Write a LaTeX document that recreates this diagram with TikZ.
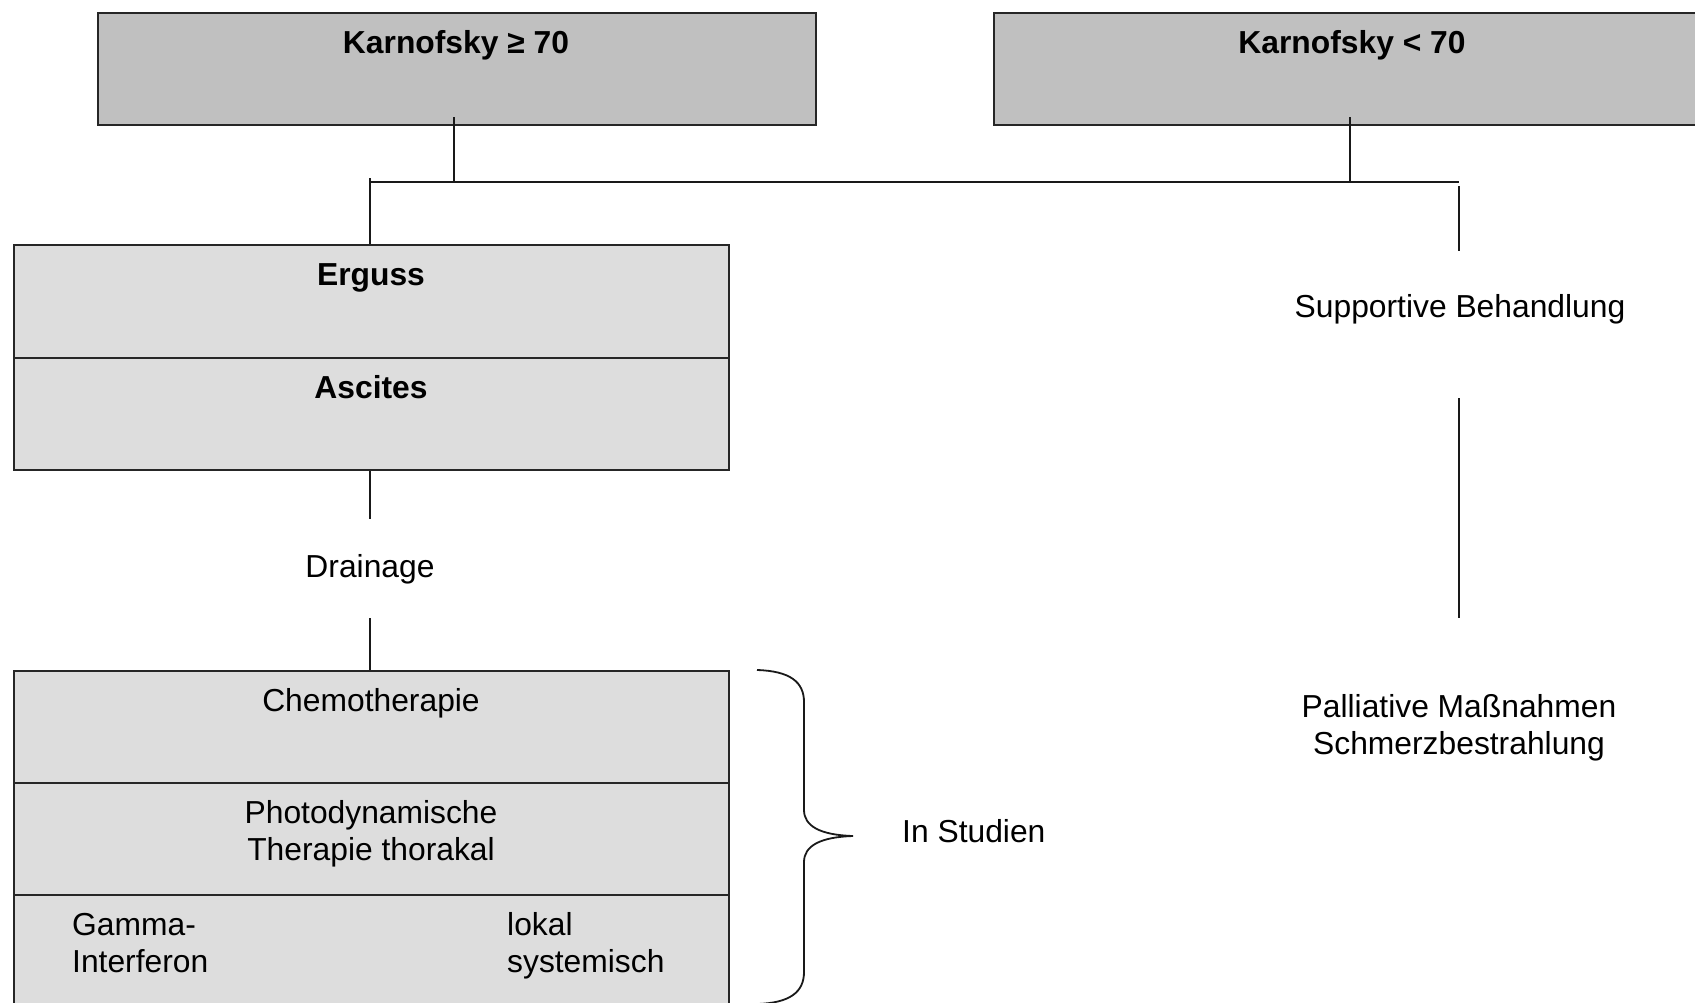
\documentclass[tikz,border=0pt]{standalone}
\usepackage{fontspec}
\setmainfont{Liberation Sans}
\begin{document}
\begin{tikzpicture}[x=1pt,y=-1pt,
  headbox/.style={draw=black!85, line width=2pt, fill={rgb,255:red,192;green,192;blue,192}, anchor=north west, inner sep=0pt},
  stepbox/.style={draw=black!85, line width=2pt, fill={rgb,255:red,221;green,221;blue,221}, anchor=north west, inner sep=0pt},
  txt/.style={font=\fontsize{31.8}{37}\selectfont, inner sep=0pt, anchor=base},
  btxt/.style={font=\fontsize{31.8}{37}\selectfont\bfseries, inner sep=0pt, anchor=base},
  ltxt/.style={txt, anchor=base west},
  link/.style={line width=2pt, black!90}]
\useasboundingbox (0,0) rectangle (1695,1002);
\clip (0,0) rectangle (1695,1002);

% header boxes
\node[headbox, minimum width=718pt, minimum height=112pt] (k1) at (97,12) {};
\node[headbox, minimum width=740pt, minimum height=112pt] (k2) at (993,12) {};
\node[btxt] (k1t) at (456,53) {Karnofsky ≥ 70};
\node[btxt] (k2t) at (1352,53) {Karnofsky < 70};

% left column boxes
\node[stepbox, minimum width=715pt, minimum height=113pt] (eg) at (13,244) {};
\node[stepbox, minimum width=715pt, minimum height=112pt] (as) at (13,357) {};
\node[btxt] (egt) at (371,285) {Erguss};
\node[btxt] (ast) at (371,398) {Ascites};

\node[txt] (dr) at (370,577) {Drainage};

\node[stepbox, minimum width=715pt, minimum height=112pt] (ch) at (13,670) {};
\node[stepbox, minimum width=715pt, minimum height=112pt] (pd) at (13,782) {};
\node[stepbox, minimum width=715pt, minimum height=130pt] (gi) at (13,894) {};
\node[txt] (cht) at (371,711) {Chemotherapie};
\node[txt] (pdt1) at (371,823) {Photodynamische};
\node[txt] (pdt2) at (371,860) {Therapie thorakal};
\node[ltxt] (gi1) at (72,935) {Gamma-};
\node[ltxt] (gi2) at (72,972) {Interferon};
\node[ltxt] (lo1) at (507,935) {lokal};
\node[ltxt] (lo2) at (507,972) {systemisch};

% right column texts
\node[txt] (sup) at (1460,317) {Supportive Behandlung};
\node[txt] (pal1) at (1459,717) {Palliative Maßnahmen};
\node[txt] (pal2) at (1459,754) {Schmerzbestrahlung};

% brace and its label
\node[ltxt] (st) at (902,842) {In Studien};
\coordinate (brtop) at (757,670);
\coordinate (brtip) at (853,836);
\coordinate (brbot) at (757,1004);
\draw[link, line width=1.8pt] (brtop) .. controls (790,671) and (804,682) .. (804,702)
  -- (804,810) .. controls (804,826) and (820,835) .. (brtip)
  .. controls (820,837) and (804,846) .. (804,862)
  -- (804,972) .. controls (804,992) and (790,1003) .. (brbot);

% connectors
\coordinate (k1in) at (454,117);
\coordinate (k2in) at (1350,117);
\coordinate (jk1) at (454,182);
\coordinate (jk2) at (1350,182);
\coordinate (jl) at (370,182);
\coordinate (jltick) at (370,178);
\coordinate (jr) at (1459,182);
\coordinate (supin) at (1459,186);
\coordinate (supout) at (1459,251);
\coordinate (palin) at (1459,398);
\coordinate (palout) at (1459,618);
\coordinate (drin) at (370,519);
\coordinate (drout) at (370,618);

\draw[link] (k1in) -- (jk1);
\draw[link] (k2in) -- (jk2);
\draw[link] (jl) -- (jr);
\draw[link] (jltick) -- (jltick |- eg.north);
\draw[link] (supin) -- (supout);
\draw[link] (palin) -- (palout);
\draw[link] (drin |- as.south) -- (drin);
\draw[link] (drout) -- (drout |- ch.north);
\end{tikzpicture}
\end{document}
